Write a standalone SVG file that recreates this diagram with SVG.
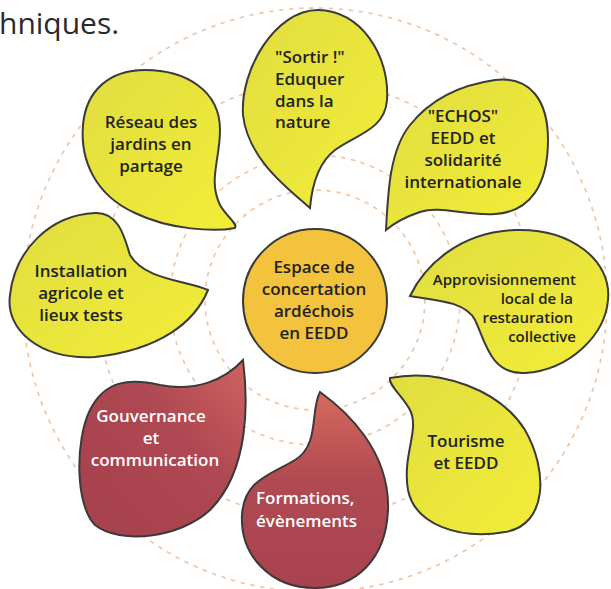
<svg xmlns="http://www.w3.org/2000/svg" width="611" height="589" viewBox="0 0 611 589">
<defs>
<linearGradient id="gy" x1="0" y1="0" x2="1" y2="1">
<stop offset="0" stop-color="#e0dd40"/>
<stop offset="1" stop-color="#f3ed37"/>
</linearGradient>
<linearGradient id="gr" x1="0" y1="0" x2="0" y2="1">
<stop offset="0" stop-color="#d66a5e"/>
<stop offset="0.45" stop-color="#b04a52"/>
<stop offset="1" stop-color="#a8424e"/>
</linearGradient>
<linearGradient id="gr2" x1="1" y1="0" x2="0" y2="1">
<stop offset="0" stop-color="#cf6360"/>
<stop offset="0.4" stop-color="#ae4852"/>
<stop offset="1" stop-color="#a5414d"/>
</linearGradient>
<style>
.ring{fill:none;stroke:#f0c9aa;stroke-width:1.8;stroke-dasharray:3 7;stroke-linecap:round}
.blob{stroke:#3a3a3a;stroke-width:2}
.y{fill:url(#gy)}
.t{font-family:"Open Sans","Noto Sans","Liberation Sans",sans-serif;font-weight:600;font-size:17px;fill:#222}
.w{fill:#ffffff}
.s{font-size:15px}
.m{text-anchor:middle}
.e{text-anchor:end}
</style>
</defs>
<rect width="611" height="589" fill="#ffffff"/>
<text x="-1" y="34" font-family="Open Sans, Noto Sans, Liberation Sans, sans-serif" font-size="30" fill="#2a2a2a">hniques.</text>
<g id="rings">
<circle class="ring" cx="315" cy="300" r="110"/>
<circle class="ring" cx="315" cy="300" r="145"/>
<circle class="ring" cx="315" cy="300" r="218"/>
<circle class="ring" cx="315" cy="300" r="292"/>
</g>
<g id="sortir">
<path class="blob y" d="M 310 208 C 290 190, 248 160, 243 115 C 240 70, 275 10, 318 10 C 360 10, 390 55, 387 100 C 385 130, 355 135, 335 150 C 318 163, 312 185, 310 208 Z"/>
<text class="t" x="275" y="63">"Sortir !"</text>
<text class="t" x="275" y="85">Eduquer</text>
<text class="t" x="275" y="107">dans la</text>
<text class="t" x="275" y="128">nature</text>
</g>
<g id="echos">
<path class="blob y" d="M 386 230 C 388 190, 390 150, 410 125 C 430 100, 460 85, 495 80 C 530 76, 548 100, 548 140 C 548 185, 530 212, 495 214 C 465 216, 440 205, 420 212 C 405 217, 392 225, 386 230 Z"/>
<text class="t m" x="463" y="122">"ECHOS"</text>
<text class="t m" x="463" y="144">EEDD et</text>
<text class="t m" x="463" y="166">solidarité</text>
<text class="t m" x="463" y="188">internationale</text>
</g>
<g id="jardins">
<path class="blob y" d="M 235 228 C 215 232, 170 230, 135 213 C 95 195, 80 160, 83 125 C 86 90, 110 70, 145 70 C 185 70, 220 90, 220 130 C 220 160, 208 180, 220 205 C 226 216, 238 224, 235 228 Z"/>
<text class="t m" x="151" y="128">Réseau des</text>
<text class="t m" x="151" y="150">jardins en</text>
<text class="t m" x="151" y="172">partage</text>
</g>
<g id="installation">
<path class="blob y" d="M 208 290 C 195 322, 160 350, 95 357 C 40 360, 5 330, 10 295 C 15 250, 50 215, 95 213 C 120 212, 125 240, 130 255 C 145 280, 185 280, 208 290 Z"/>
<text class="t m" x="81" y="277">Installation</text>
<text class="t m" x="81" y="299">agricole et</text>
<text class="t m" x="81" y="321">lieux tests</text>
</g>
<g id="approvisionnement">
<path class="blob y" d="M 410 296 C 425 265, 460 232, 515 230 C 570 228, 612 260, 608 300 C 605 335, 570 370, 525 373 C 490 375, 485 340, 475 320 C 465 300, 430 300, 410 296 Z"/>
<text class="t s e" x="576" y="285">Approvisionnement</text>
<text class="t s e" x="573" y="304">local de la</text>
<text class="t s e" x="573" y="323">restauration</text>
<text class="t s e" x="576" y="342">collective</text>
</g>
<g id="tourisme">
<path class="blob y" d="M 390 378 C 440 368, 500 390, 525 430 C 548 470, 548 525, 505 532 C 460 540, 415 525, 408 490 C 402 455, 420 430, 410 410 C 402 395, 388 385, 390 378 Z"/>
<text class="t m" x="466" y="447">Tourisme</text>
<text class="t m" x="466" y="469">et EEDD</text>
</g>
<g id="gouvernance">
<path class="blob" fill="url(#gr2)" d="M 243 360 C 248 400, 250 470, 210 510 C 180 538, 120 545, 95 525 C 75 505, 75 440, 90 410 C 105 380, 130 378, 160 385 C 195 392, 225 380, 243 360 Z"/>
<text class="t w m" x="151" y="422">Gouvernance</text>
<text class="t w m" x="151" y="444">et</text>
<text class="t w m" x="155" y="466">communication</text>
</g>
<g id="formations">
<path class="blob" fill="url(#gr)" d="M 320 392 C 345 410, 390 450, 388 510 C 386 560, 355 588, 315 588 C 270 588, 240 555, 242 515 C 244 480, 270 475, 295 460 C 320 445, 310 410, 320 392 Z"/>
<text class="t w" x="256" y="504">Formations,</text>
<text class="t w" x="256" y="527">évènements</text>
</g>
<g id="espace">
<circle class="blob" cx="315" cy="301" r="72" fill="#f3c33d"/>
<text class="t m" x="314" y="273">Espace de</text>
<text class="t m" x="314" y="295">concertation</text>
<text class="t m" x="314" y="317">ardéchois</text>
<text class="t m" x="314" y="339">en EEDD</text>
</g>
</svg>
